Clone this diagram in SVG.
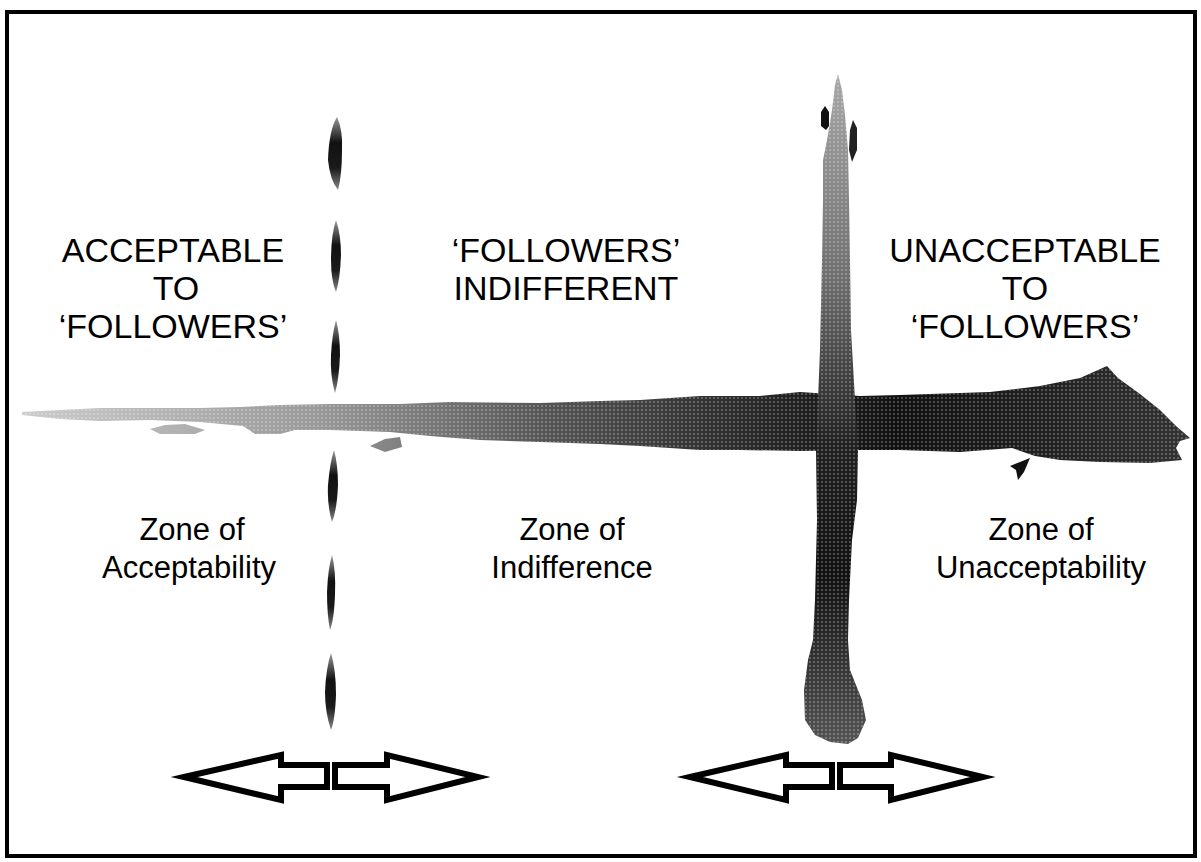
<svg xmlns="http://www.w3.org/2000/svg" width="1201" height="862" viewBox="0 0 1201 862">
<style>
.t{font-family:"Liberation Sans",Arial,sans-serif;fill:#000;text-anchor:middle}
.u{font-size:34px}
.l{font-size:31px}
.arr{fill:#fff;stroke:#000;stroke-width:6;stroke-linejoin:miter;stroke-miterlimit:10}
.dash{fill:url(#gd)}
.tex{fill:url(#dots);opacity:0.35}
</style>
<defs>
<linearGradient id="gh" x1="22" y1="0" x2="1190" y2="0" gradientUnits="userSpaceOnUse">
<stop offset="0" stop-color="#cccccc"/>
<stop offset="0.25" stop-color="#9a9a9a"/>
<stop offset="0.45" stop-color="#555"/>
<stop offset="0.62" stop-color="#2a2a2a"/>
<stop offset="0.75" stop-color="#111"/>
<stop offset="0.88" stop-color="#222"/>
<stop offset="1" stop-color="#333"/>
</linearGradient>
<linearGradient id="gv" x1="0" y1="74" x2="0" y2="744" gradientUnits="userSpaceOnUse">
<stop offset="0" stop-color="#a8a8a8"/>
<stop offset="0.3" stop-color="#707070"/>
<stop offset="0.55" stop-color="#222"/>
<stop offset="0.75" stop-color="#111"/>
<stop offset="1" stop-color="#555"/>
</linearGradient>
<linearGradient id="gd" x1="0" y1="0" x2="0" y2="1">
<stop offset="0" stop-color="#999"/>
<stop offset="0.35" stop-color="#111"/>
<stop offset="0.7" stop-color="#1a1a1a"/>
<stop offset="1" stop-color="#888"/>
</linearGradient>
<pattern id="dots" width="4" height="4" patternUnits="userSpaceOnUse">
<circle cx="2" cy="2" r="0.9" fill="#fff"/>
</pattern>
</defs>
<rect x="7" y="12" width="1188" height="844" fill="#fff" stroke="#000" stroke-width="4"/>

<g id="horizontal-band">
<path id="hb" fill="url(#gh)" d="M22,412 L60,410 L100,408 L150,408 L200,408 L240,407 L280,405 L330,404 L400,404 L450,402 L540,403 L600,401 L640,400 L700,396 L760,396 L800,392 L860,396 L900,395 L990,392 L1040,386 L1080,378 L1098,370 L1107,366 L1118,378 L1140,394 L1160,410 L1176,426 L1190,438 L1180,441 L1176,448 L1182,460 L1150,463 L1100,462 L1060,460 L1035,456 L1012,448 L960,452 L900,450 L860,450 L800,451 L740,450 L700,450 L640,446 L600,444 L540,442 L480,440 L430,436 L390,432 L330,430 L295,430 L280,434 L255,434 L243,426 L200,422 L150,420 L100,421 L60,419 L22,415 Z"/>
<path class="tex" d="M22,412 L60,410 L100,408 L150,408 L200,408 L240,407 L280,405 L330,404 L400,404 L450,402 L540,403 L600,401 L640,400 L700,396 L760,396 L800,392 L860,396 L900,395 L990,392 L1040,386 L1080,378 L1098,370 L1107,366 L1118,378 L1140,394 L1160,410 L1176,426 L1190,438 L1180,441 L1176,448 L1182,460 L1150,463 L1100,462 L1060,460 L1035,456 L1012,448 L960,452 L900,450 L860,450 L800,451 L740,450 L700,450 L640,446 L600,444 L540,442 L480,440 L430,436 L390,432 L330,430 L295,430 L280,434 L255,434 L243,426 L200,422 L150,420 L100,421 L60,419 L22,415 Z"/>
<path fill="url(#gh)" d="M150,429 L165,425 L185,424 L205,430 L195,434 L160,434 Z"/>
<path fill="url(#gh)" d="M370,446 L385,439 L400,437 L402,447 L385,452 Z"/>
<path fill="#111" d="M1030,458 L1024,472 L1018,480 L1016,470 L1010,466 L1020,462 Z"/>
</g>

<g id="vertical-bar">
<path fill="url(#gv)" d="M838,74 L842,90 L845,115 L848,150 L849,200 L850,260 L851,330 L855,400 L858,450 L857,500 L852,540 L849,600 L848,640 L850,670 L862,700 L866,720 L858,738 L848,744 L830,742 L815,735 L805,720 L804,690 L808,660 L813,640 L815,600 L816,560 L817,520 L816,450 L820,350 L822,260 L823,200 L823,160 L828,135 L832,110 L835,85 Z"/>
<path class="tex" d="M838,74 L842,90 L845,115 L848,150 L849,200 L850,260 L851,330 L855,400 L858,450 L857,500 L852,540 L849,600 L848,640 L850,670 L862,700 L866,720 L858,738 L848,744 L830,742 L815,735 L805,720 L804,690 L808,660 L813,640 L815,600 L816,560 L817,520 L816,450 L820,350 L822,260 L823,200 L823,160 L828,135 L832,110 L835,85 Z"/>
<path fill="#111" d="M825,106 L829,112 L829,126 L826,130 L821,126 L821,112 Z"/>
<path fill="#222" d="M853,120 L857,128 L857,150 L852,162 L849,150 L850,130 Z"/>
</g>

<g id="dashed-line">
<path class="dash" d="M337,117 Q343,130 342,150 Q342,175 338,190 Q330,180 328,160 Q329,130 337,117 Z"/>
<path class="dash" d="M336,220 Q341,235 341,255 Q340,280 336,292 Q331,280 331,260 Q331,235 336,220 Z"/>
<path class="dash" d="M336,320 Q340,335 340,355 Q339,380 335,393 Q330,375 331,355 Q332,335 336,320 Z"/>
<path class="dash" d="M334,450 Q338,465 338,485 Q337,510 332,522 Q327,505 328,485 Q330,462 334,450 Z"/>
<path class="dash" d="M332,555 Q336,570 335,595 Q334,620 330,630 Q327,615 327,592 Q328,568 332,555 Z"/>
<path class="dash" d="M331,653 Q336,670 336,695 Q335,720 331,730 Q325,712 325,692 Q326,668 331,653 Z"/>
</g>

<g id="labels-top">
<text class="t u" x="173" y="262">ACCEPTABLE</text>
<text class="t u" x="176" y="300">TO</text>
<text class="t u" x="173" y="338">‘FOLLOWERS’</text>
<text class="t u" x="566" y="262">‘FOLLOWERS’</text>
<text class="t u" x="566" y="300">INDIFFERENT</text>
<text class="t u" x="1025" y="262">UNACCEPTABLE</text>
<text class="t u" x="1025" y="300">TO</text>
<text class="t u" x="1025" y="338">‘FOLLOWERS’</text>
</g>
<g id="labels-bottom">
<text class="t l" x="192" y="540">Zone of</text>
<text class="t l" x="189" y="578">Acceptability</text>
<text class="t l" x="572" y="540">Zone of</text>
<text class="t l" x="572" y="578">Indifference</text>
<text class="t l" x="1041" y="540">Zone of</text>
<text class="t l" x="1041" y="578">Unacceptability</text>
</g>

<g id="arrows-left">
<polygon class="arr" points="184,777 281,755 281,765 327,765 327,787 281,787 281,800"/>
<polygon class="arr" points="335,765 387,765 387,755 478,777 387,800 387,787 335,787"/>
</g>
<g id="arrows-right">
<polygon class="arr" points="690,777 786,755 786,765 832,765 832,787 786,787 786,800"/>
<polygon class="arr" points="840,765 891,765 891,755 983,777 891,800 891,787 840,787"/>
</g>
</svg>
